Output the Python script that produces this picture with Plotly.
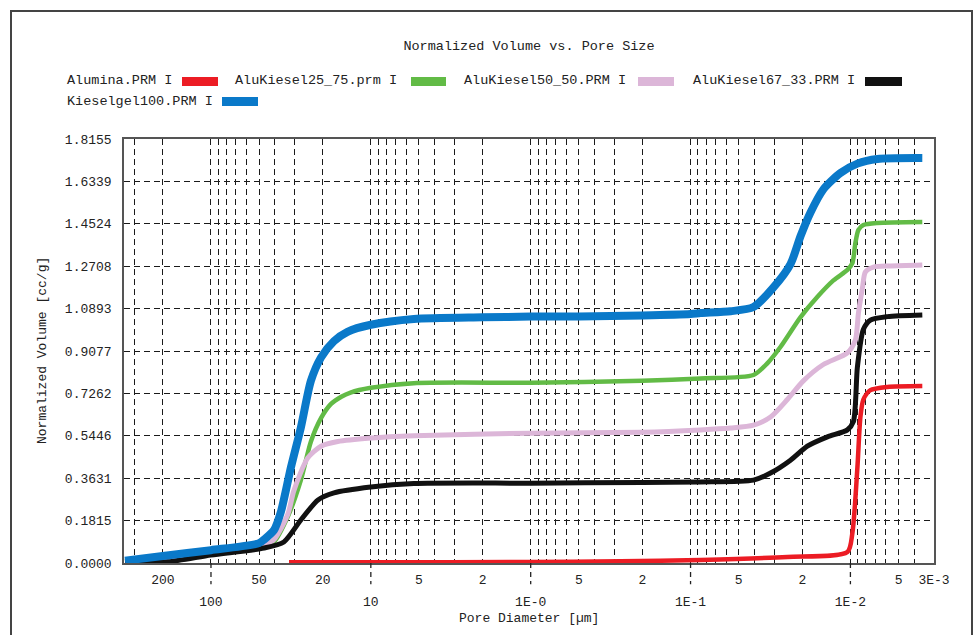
import numpy as np
import plotly.graph_objects as go

FONT = "Liberation Mono"
TXT = "#222222"

# ---- series (pore diameter in µm, normalized volume in cc/g) ----
alumina_d = [32.5, 10, 1.0, 0.274, 0.0866, 0.0248, 0.01044, 0.00972, 0.00904, 0.00866, 0.0083, 0.0075, 0.00587, 0.00355]
alumina_v = [0.003, 0.003, 0.004, 0.007, 0.013, 0.026, 0.047, 0.128, 0.41, 0.625, 0.70, 0.74, 0.754, 0.758]

ak25_d = [345, 200, 100, 50, 46.6, 40.4, 33.0, 27.4, 23.7, 20.5, 17.8, 15.3, 13.4, 10, 5.38, 1.0, 0.2, 0.0866, 0.0404,
          0.0330, 0.0274, 0.0205, 0.01607, 0.01277, 0.01044, 0.00972, 0.00931, 0.00891, 0.0083, 0.00678, 0.00355]
ak25_v = [0.008, 0.025, 0.045, 0.065, 0.07, 0.09, 0.20, 0.355, 0.52, 0.62, 0.68, 0.712, 0.73, 0.75, 0.77, 0.772, 0.78, 0.79,
          0.805, 0.856, 0.925, 1.053, 1.14, 1.21, 1.255, 1.284, 1.37, 1.426, 1.447, 1.456, 1.46]

ak50_d = [345, 200, 100, 50, 46.6, 40.4, 33.0, 30.3, 24.8, 20.5, 16.1, 10, 5.38, 1.0, 0.2, 0.0866, 0.0562, 0.0404,
          0.0316, 0.0248, 0.0197, 0.01476, 0.01044, 0.00931, 0.00891, 0.0084, 0.00806, 0.00718, 0.00562, 0.00355]
ak50_v = [0.006, 0.02, 0.047, 0.07, 0.077, 0.10, 0.21, 0.31, 0.45, 0.50, 0.52, 0.535, 0.545, 0.556, 0.56, 0.57, 0.578, 0.59,
          0.625, 0.70, 0.78, 0.85, 0.90, 0.955, 1.07, 1.18, 1.246, 1.267, 1.272, 1.276]

ak67_d = [345, 186, 100, 46.6, 35.0, 27.4, 21.4, 17.0, 10, 5.38, 1.0, 0.2, 0.0866, 0.0404, 0.0316, 0.0237, 0.0186,
          0.01393, 0.01044, 0.00958, 0.00904, 0.0083, 0.0075, 0.00587, 0.00355]
ak67_v = [0.0, 0.005, 0.034, 0.064, 0.09, 0.184, 0.27, 0.30, 0.325, 0.34, 0.342, 0.345, 0.347, 0.355, 0.385, 0.44, 0.50,
          0.54, 0.57, 0.605, 0.84, 1.0, 1.04, 1.055, 1.062]

kg100_d = [345, 200, 100, 50, 46.6, 40.4, 36.5, 31.6, 27.4, 23.7, 20.5, 17.0, 14.0, 10, 5.38, 2.0, 1.0, 0.5, 0.2, 0.1,
           0.0866, 0.0562, 0.0404, 0.0303, 0.0237, 0.0205, 0.0178, 0.01476, 0.01155, 0.00904, 0.00678, 0.00355]
kg100_v = [0.01, 0.03, 0.055, 0.085, 0.10, 0.14, 0.22, 0.41, 0.58, 0.78, 0.88, 0.95, 0.99, 1.02, 1.045, 1.052, 1.055, 1.056,
           1.06, 1.066, 1.07, 1.078, 1.096, 1.18, 1.28, 1.40, 1.50, 1.60, 1.67, 1.71, 1.73, 1.734]

series_names = ["Alumina.PRM I", "AluKiesel25_75.prm I", "AluKiesel50_50.PRM I",
                "AluKiesel67_33.PRM I", "Kieselgel100.PRM I"]
series_d = [alumina_d, ak25_d, ak50_d, ak67_d, kg100_d]
series_v = [alumina_v, ak25_v, ak50_v, ak67_v, kg100_v]
series_colors = ["#ec1c24", "#62bb46", "#dcb6d8", "#111111", "#0a79c9"]
series_widths = [4.5, 4.5, 5, 5, 8]

# ---- axis ticks ----
x_minor_tick_vals = [200, 50, 20, 5, 2, 0.5, 0.2, 0.05, 0.02, 0.005, 0.003]
x_minor_tick_text = ["200", "50", "20", "5", "2", "5", "2", "5", "2", "5", "3E-3"]
x_decade_tick_vals = [100, 10, 1, 0.1, 0.01]
x_decade_tick_text = ["100", "10", "1E-0", "1E-1", "1E-2"]
y_tick_vals = [0.0, 0.1815, 0.3631, 0.5446, 0.7262, 0.9077, 1.0893, 1.2708, 1.4524, 1.6339, 1.8155]
y_tick_text = ["%.4f" % v for v in y_tick_vals]

x_max, x_min = 350, 0.003
grid_vals = [m * 10.0 ** k for k in range(-3, 3) for m in range(1, 10) if x_min <= m * 10.0 ** k <= x_max]
x_range = [np.log10(x_max), np.log10(x_min)]

GRID = dict(gridcolor="#1a1a1a", gridwidth=1, griddash="6px,4px")

fig = go.Figure()
for name, d, v, c, w in zip(series_names, series_d, series_v, series_colors, series_widths):
    fig.add_trace(go.Scatter(x=d, y=v, mode="lines", name=name,
                             line=dict(color=c, width=w, shape="spline", smoothing=0.7)))

fig.update_layout(
    width=976, height=635,
    margin=dict(l=124, r=42, t=139, b=72),
    paper_bgcolor="white", plot_bgcolor="white",
    showlegend=False,
    font=dict(family=FONT, color=TXT, size=13),
    title=dict(text="Normalized Volume vs. Pore Size", x=0.542, xanchor="center",
               y=1 - 45 / 635, yanchor="middle", font=dict(family=FONT, size=13.5, color=TXT)),
    xaxis=dict(type="log", range=x_range, tickmode="array",
               tickvals=x_minor_tick_vals, ticktext=x_minor_tick_text, ticks="",
               ticklabelstandoff=4,
               showgrid=True, **GRID,
               minor=dict(tickmode="array", tickvals=grid_vals, showgrid=True, ticks="", **GRID),
               showline=True, linecolor="#555555", linewidth=1.5, mirror=True,
               tickfont=dict(family=FONT, size=13, color=TXT), zeroline=False),
    xaxis2=dict(type="log", range=x_range, overlaying="x", anchor="y", side="bottom",
                tickmode="array", tickvals=x_decade_tick_vals, ticktext=x_decade_tick_text,
                ticks="outside", ticklen=18, tickwidth=1, tickcolor="rgba(0,0,0,0)",
                ticklabelstandoff=8, showgrid=False, showline=False, zeroline=False,
                tickfont=dict(family=FONT, size=13, color=TXT)),
    yaxis=dict(range=[0, 1.8155], tickmode="array", tickvals=y_tick_vals, ticktext=y_tick_text,
               ticks="", ticklabelstandoff=8, showgrid=True, **GRID, zeroline=False,
               showline=True, linecolor="#555555", linewidth=1.5, mirror=True,
               tickfont=dict(family=FONT, size=13, color=TXT)),
)

# empty trace so the decade axis is laid out
fig.add_trace(go.Scatter(x=[], y=[], xaxis="x2", showlegend=False, hoverinfo="skip"))

# dashed decade tick marks below the axis (positioned on the paper from the log scale)
span = np.log10(x_max) - np.log10(x_min)
for v in x_decade_tick_vals:
    px = (np.log10(x_max) - np.log10(v)) / span
    fig.add_shape(type="line", xref="paper", yref="paper", x0=px, x1=px, y0=0, y1=-0.05,
                  line=dict(color="#222222", width=1.3, dash="5px,4px"), layer="above")

# axis titles
fig.add_annotation(text="Pore Diameter [µm]", xref="paper", yref="paper", x=0.5, y=(563 - 618) / 424,
                   showarrow=False, font=dict(family=FONT, size=13, color=TXT), yanchor="middle")
fig.add_annotation(text="Normalized Volume [cc/g]", xref="paper", yref="paper", x=(42 - 124) / 810, y=0.5,
                   textangle=-90, showarrow=False, font=dict(family=FONT, size=13, color=TXT),
                   xanchor="center", yanchor="middle")

# legend: label followed by a colour swatch
legend_rows = [(65, 81), (233, 81), (462, 81), (691, 81), (65, 101)]
swatch_x = [(182, 218), (411, 446), (638, 674), (865, 902), (222, 258)]
for (tx, ty), (sx0, sx1), name, c in zip(legend_rows, swatch_x, series_names, series_colors):
    fig.add_annotation(text=name, xref="paper", yref="paper", x=(tx - 124) / 810, y=(563 - ty) / 424,
                       xanchor="left", yanchor="middle", showarrow=False,
                       font=dict(family=FONT, size=13.5, color=TXT))
    fig.add_shape(type="rect", xref="paper", yref="paper",
                  x0=(sx0 - 124) / 810, x1=(sx1 - 124) / 810,
                  y0=(563 - ty - 5) / 424, y1=(563 - ty + 4) / 424,
                  fillcolor=c, line=dict(width=0))

# outer frame
fig.add_shape(type="rect", xref="paper", yref="paper",
              x0=(11 - 124) / 810, x1=(972 - 124) / 810, y0=(563 - 660) / 424, y1=(563 - 11) / 424,
              line=dict(color="#444444", width=2), fillcolor="rgba(0,0,0,0)", layer="below")

fig.write_html("out.html")
